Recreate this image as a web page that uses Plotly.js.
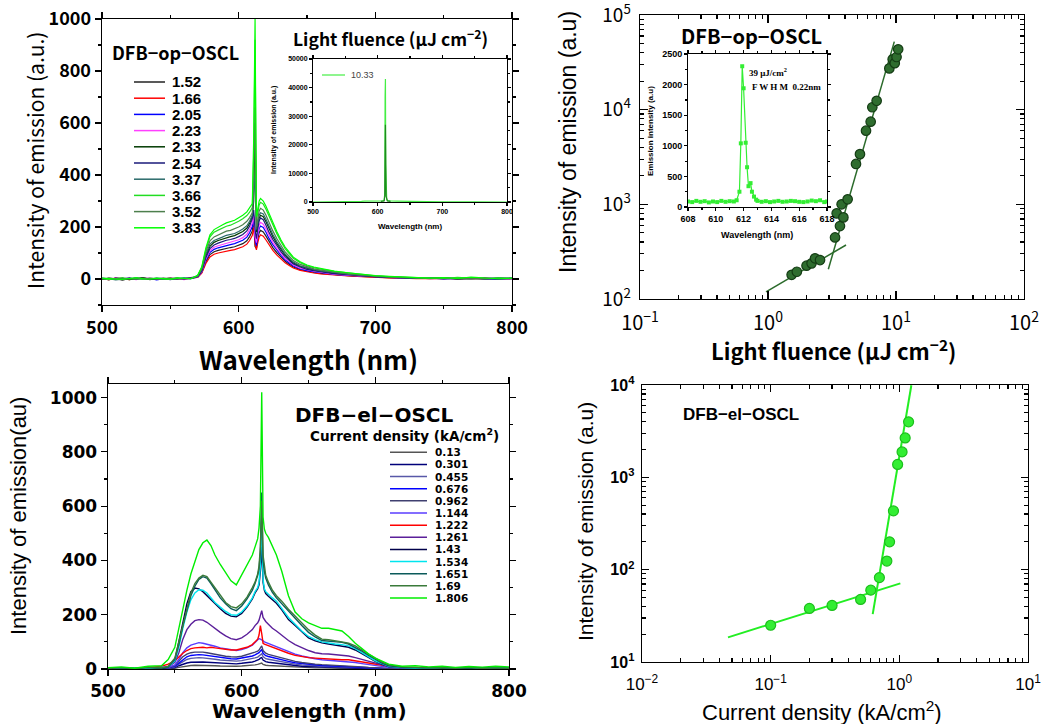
<!DOCTYPE html>
<html><head><meta charset="utf-8">
<script src="https://cdn.plot.ly/plotly-3.0.1.min.js"></script>
<style>html,body{margin:0;padding:0;background:#fff}#chart{width:1049px;height:724px}</style>
</head><body><div id="chart"></div>
<script>
// ---------------- Panel 1 (DFB-op-OSCL spectra) ----------------
const wl1 = [500,505,510,515,520,525,530,535,540,545,550,555,560,565,570,573,576,579,582,585,588,591,594,597,600,603,606,608,610,611,612,613,614,615,616,618,620,622,625,628,631,634,637,640,645,650,655,660,670,680,690,700,710,720,730,740,750,760,770,780,790,800];
const s1_152 = [-2,3,1,-4,2,0,5,-2,1,3,-1,2,0,3, 7,25,66,94,105,110,114,119,121,124,130,136,147,163,185,230,125,118,155,178,187,181,165,145,121,101,84,68,57,46,36,30,25,22, 17,13,10,7,5,2,4,1,3,-1,2,0,3,1];
const s1_166 = [2,-3,4,0,-2,3,1,-1,2,0,3,-1,2,4, 6,22,60,85,95,100,104,108,110,113,118,124,134,148,168,200,135,112,140,162,170,165,150,132,110,92,76,62,52,42,33,27,23,20, 15,12,9,6,4,3,1,2,0,3,1,2,0,1];
const s1_205 = [1,-2,3,2,-1,4,0,2,-3,1,2,0,4,1, 8,27,72,102,114,120,125,130,132,136,142,149,161,178,202,240,150,128,168,194,204,198,180,158,132,110,91,74,62,50,40,32,28,24, 18,14,11,8,5,4,2,3,0,2,4,1,-2,2];
const s1_223 = [0,2,-1,3,1,-2,2,4,0,-1,3,2,-2,2, 8,28,77,109,122,128,133,138,141,145,151,159,172,190,215,245,165,140,180,207,218,211,192,169,141,118,97,79,67,54,42,35,30,26, 19,15,12,8,6,3,5,1,3,0,2,5,1,0];
const s1_233 = [-1,2,0,3,-2,1,4,0,-1,2,1,3,0,2, 10,33,89,126,141,148,154,160,163,167,175,183,196,214,240,300,600,180,205,235,245,240,220,195,163,136,112,92,77,62,49,40,34,30, 22,18,13,9,7,4,3,2,4,0,2,3,1,2];
const s1_254 = [3,0,-2,1,4,-1,2,0,3,1,-2,2,1,5, 9,30,83,117,131,138,144,149,152,156,163,171,185,204,232,265,190,155,195,224,235,228,207,182,152,127,105,86,72,58,46,37,32,28, 21,17,12,9,6,4,2,3,5,1,3,0,2,4];
const s1_337 = [2,1,-3,0,2,3,-1,1,2,-2,0,3,2,1, 11,36,95,134,148,156,161,168,171,175,183,192,205,222,245,320,400,190,215,245,255,250,230,205,171,143,118,96,81,65,51,42,36,31, 24,19,14,10,7,5,2,4,1,3,0,2,4,1];
const s1_366 = [1,-2,2,4,0,1,-1,3,2,0,-2,2,3,1, 13,44,112,162,180,188,196,203,207,213,222,232,244,257,275,480,920,225,255,285,295,288,268,243,205,173,143,117,98,80,63,51,44,38, 29,23,17,12,9,7,5,4,2,6,3,1,4,2];
const s1_352 = [0,3,1,-2,2,0,3,1,-1,2,4,0,1,3, 12,40,104,147,162,170,177,184,187,192,200,209,222,236,255,380,660,200,235,262,272,265,245,220,185,155,128,104,88,71,56,46,39,34, 26,20,15,11,8,6,4,2,5,1,3,2,0,3];
const s1_383 = [3,1,0,-2,2,5,1,-1,3,2,0,4,2,1, 14,47,120,170,190,200,208,216,220,226,236,245,258,272,290,540,1000,240,270,300,310,300,280,255,215,182,150,123,103,84,66,54,46,40, 30,24,18,13,10,8,6,3,5,2,7,4,1,3];
const labels1 = ['1.52','1.66','2.05','2.23','2.33','2.54','3.37','3.66','3.52','3.83'];
const series1 = [s1_152,s1_166,s1_205,s1_223,s1_233,s1_254,s1_337,s1_366,s1_352,s1_383];
const colors1 = ['#222222','#ff0000','#0000ff','#ff40ff','#003a00','#1a1a7a','#2a6a6a','#22dd22','#4d7f4d','#00ff00'];

// inset 1 (10.33)
const wlIn1 = [500,520,540,560,570,575,580,590,600,605,608,610,611,611.5,612,612.5,613,614,616,620,630,640,645,650,660,665,670,675,680,700,750,800];
const in1_1033 = [0,30,-20,40,0,250,300,280,300,350,400,600,3000,37000,43000,13000,2500,800,500,350,300,250,100,60,40,30,30,20,30,10,20,0];
const wlIn1b = [605,610,611,611.5,612,612.5,613,615,620];
const in1_dark = [200,400,2000,27000,27000,13000,2000,400,200];
const labelIn1 = '10.33';

// ---------------- Panel 2 (threshold, optical) ----------------
const fluence2 = [1.53,1.68,2.0,2.19,2.33,2.55,3.34,3.44,3.65,3.76,3.88,4.19,4.87,5.23,5.83,6.34,6.53,7.06,8.87,9.42,9.78,10.1,10.4];
const intens2 = [180,194,225,238,269,258,447,803,590,1000,728,1130,2670,3390,6000,7470,10600,12400,27300,34000,31000,36000,43400];
const fitLowX2 = [0.965,4.07], fitLowY2 = [119,372];
const fitHighX2 = [2.96,9.7], fitHighY2 = [206,52300];

// inset 2 (narrow line)
const wlIn2 = [608.0,608.3,608.6,608.9,609.2,609.5,609.8,610.1,610.4,610.7,611.0,611.3,611.5,611.7,611.8,611.9,612.0,612.15,612.25,612.35,612.5,612.6,612.75,612.9,613.0,613.3,613.6,613.9,614.2,614.5,614.8,615.1,615.4,615.7,616.0,616.3,616.6,616.9,617.2,617.5,617.8,618.0];
const in2 = [90,80,100,85,95,75,90,80,100,85,95,90,110,250,1040,2300,1940,1050,650,340,390,250,170,120,100,85,95,80,90,100,85,90,100,95,85,80,90,105,95,110,80,90];

// ---------------- Panel 3 (DFB-el-OSCL spectra) ----------------
const wl3 = [500,510,520,530,540,545,550,553,556,559,562,565,568,571,574,577,580,584,588,592,596,600,604,608,610,612,613,614,615,616,617,618,620,623,626,630,635,640,645,650,655,660,665,670,675,680,685,690,695,700,705,710,720,730,740,750,760,770,780,790,800];
const s3_0130 = [1,0,1,0,1,1,3,6,9,11,13,14,14,14,13,12,12,11,10,10,10,11,12,14,15,17,18,20,22,17,15,14,13,12,11,10,8,7,6,5,4,4,3,3,3,3,2,2,1,1,0,1,0,1,0,1,0,1,0,1,0];
const s3_0301 = [0,1,0,2,1,2,5,12,18,22,25,26,27,26,25,24,23,21,20,19,19,21,23,26,29,32,35,40,42,33,29,27,25,23,21,18,15,12,10,9,8,7,6,6,5,5,4,3,2,1,1,0,1,0,1,0,1,0,1,0,1];
const s3_0455 = [1,0,2,1,2,3,8,18,28,35,39,41,42,41,40,38,36,33,31,30,29,31,34,38,41,44,47,52,56,46,41,38,36,33,30,26,22,18,15,13,11,10,9,8,8,7,6,5,4,2,1,1,0,1,2,0,1,0,1,2,0];
const s3_0676 = [0,1,2,1,3,4,10,22,36,45,50,52,53,52,50,48,45,42,40,38,37,40,44,48,52,56,60,66,72,58,52,49,46,42,38,33,28,23,20,17,15,13,12,11,10,9,8,6,5,3,2,1,2,0,1,2,0,1,2,0,1];
const s3_0962 = [1,2,1,3,2,4,12,28,45,55,60,62,63,62,60,57,54,50,47,45,44,47,52,58,62,66,70,78,85,68,62,58,54,50,46,40,34,28,24,20,18,16,15,14,13,12,10,8,6,4,3,2,1,2,1,0,2,1,0,1,2];
const s3_1144 = [2,1,3,2,4,6,15,35,60,78,88,94,97,95,92,88,84,78,74,70,68,72,78,88,98,105,112,110,108,104,100,98,95,88,82,75,65,55,48,42,38,34,32,30,30,28,24,20,16,12,9,6,4,2,3,1,2,3,2,1,2];
const s3_1222 = [1,2,3,5,10,18,30,45,58,68,75,78,80,80,78,80,78,75,72,70,70,74,80,90,100,110,125,160,130,95,92,90,88,82,76,68,58,50,45,42,40,38,36,35,34,34,30,25,22,18,14,10,6,4,3,5,2,4,3,2,4];
const s3_1261 = [2,3,1,4,5,8,25,60,110,145,165,178,182,180,172,160,150,135,122,112,108,115,128,145,160,170,180,200,215,190,180,175,165,150,140,125,105,90,78,68,60,56,55,52,50,48,42,35,28,22,15,9,5,3,2,4,3,1,2,3,2];
const s3_1430 = [1,3,2,4,3,7,32,95,170,240,285,298,295,285,270,255,240,222,205,195,192,205,228,258,280,296,310,360,450,320,290,278,268,255,242,218,182,160,136,115,104,96,92,88,86,80,70,56,42,28,18,9,5,2,3,4,2,3,1,2,3];
const s3_1534 = [2,3,4,2,5,8,30,80,150,210,255,280,292,290,280,262,245,228,212,200,198,210,232,262,285,300,320,380,560,330,295,285,275,262,250,225,190,165,140,120,108,100,95,92,90,85,75,60,45,30,20,10,5,3,4,2,5,3,2,4,3];
const s3_1651 = [2,4,1,5,3,8,35,90,160,220,270,305,330,340,335,315,290,262,240,222,215,232,258,290,315,345,370,430,650,400,360,335,310,282,262,240,212,188,160,135,118,105,102,100,98,92,80,66,50,35,22,12,6,4,5,3,4,2,5,3,2];
const s3_1690 = [3,5,2,6,4,10,40,100,170,230,280,315,335,345,340,320,300,270,245,230,225,240,265,300,320,350,380,450,620,420,370,345,320,290,270,250,220,195,170,145,125,110,108,105,100,95,85,70,55,38,25,15,8,6,4,5,3,6,2,4,3];
const s3_1806 = [5,8,3,10,12,35,80,150,230,290,350,395,440,465,475,455,420,385,355,325,310,345,385,420,450,480,520,600,1020,560,515,500,485,450,420,360,270,210,185,170,160,150,150,145,140,120,95,75,55,40,28,18,10,12,8,10,6,9,7,10,8];
const labels3 = ['0.13','0.301','0.455','0.676','0.962','1.144','1.222','1.261','1.43','1.534','1.651','1.69','1.806'];
const series3 = [s3_0130,s3_0301,s3_0455,s3_0676,s3_0962,s3_1144,s3_1222,s3_1261,s3_1430,s3_1534,s3_1651,s3_1690,s3_1806];
const colors3 = ['#555555','#00007a','#5858a8','#0000ff','#404070','#5a3cff','#ff0000','#5b1f9a','#00004a','#00e5ee','#0b5a5a','#3a7a3a','#00ee00'];

// ---------------- Panel 4 (threshold, electrical) ----------------
const current4 = [0.1,0.2,0.3,0.5,0.6,0.7,0.8,0.84,0.9,0.97,1.05,1.11,1.18];
const intens4 = [25,38,41,47.6,60,82,124,200,433,1380,1885,2670,3990];
const fitLowX4 = [0.0466,1.018], fitLowY4 = [18.5,71];
const fitHighX4 = [0.621,1.24], fitHighY4 = [33,9930];

// ---------------- helpers ----------------
const W = 1049, H = 724;
const px = v => v / W, py = v => 1 - v / H;
const FJ = 'Noto Sans CJK JP, sans-serif';
const FD = 'DejaVu Sans, sans-serif';
const FN = 'Liberation Sans Narrow, Liberation Sans, sans-serif';
const FA = 'Liberation Sans, Arial, sans-serif';
const FS = 'Liberation Serif, DejaVu Serif, serif';

function annot(x, y, text, size, family, extra) {
  return Object.assign({xref:'paper', yref:'paper', x:px(x), y:py(y), text:text, showarrow:false,
    xanchor:'center', yanchor:'middle', font:{family:family, size:size, color:'#000'}}, extra || {});
}
function baseAxis(o) {
  return Object.assign({showline:true, linecolor:'#000', linewidth:1.4, mirror:'allticks', ticks:'outside',
    ticklen:6, tickwidth:1.2, tickcolor:'#000', showgrid:false, zeroline:false, fixedrange:true,
    ticklabeloverflow:'allow', exponentformat:'none', separatethousands:false}, o);
}
function logMinor(lo, hi) {
  const v = [];
  for (let d = lo; d < hi; d++) for (let m = 2; m <= 9; m++) v.push(m * Math.pow(10, d));
  return v;
}
function pow10Text(vals) {
  return vals.map(v => { const e = Math.round(Math.log10(v)); return '10<sup>' + (e < 0 ? '\u2212' + (-e) : e) + '</sup>'; });
}

const traces = [];
series1.forEach((s, i) => traces.push({x: wl1, y: s, xaxis:'x', yaxis:'y', mode:'lines', name: labels1[i],
  line:{color: colors1[i], width: 1.2}}));
traces.push({x: wlIn1, y: in1_1033, xaxis:'x2', yaxis:'y2', mode:'lines', name: labelIn1, line:{color:'#44ee44', width:1.2}});
traces.push({x: wlIn1b, y: in1_dark, xaxis:'x2', yaxis:'y2', mode:'lines', name:'10.33 (dark)', line:{color:'#1f8a1f', width:1.2}});

traces.push({x: fitLowX2, y: fitLowY2, xaxis:'x3', yaxis:'y3', mode:'lines', name:'fit low', line:{color:'#2b6b2b', width:1.5}});
traces.push({x: fitHighX2, y: fitHighY2, xaxis:'x3', yaxis:'y3', mode:'lines', name:'fit high', line:{color:'#2b6b2b', width:1.5}});
traces.push({x: fluence2, y: intens2, xaxis:'x3', yaxis:'y3', mode:'markers', name:'DFB-op-OSCL',
  marker:{color:'#2f6d2f', size:9.5, line:{color:'#143c14', width:1.2}}});
traces.push({x: wlIn2, y: in2, xaxis:'x4', yaxis:'y4', mode:'lines+markers', name:'39 uJ/cm2',
  line:{color:'#33ee33', width:1.2}, marker:{color:'#33ee33', size:4, symbol:'square'}});

series3.forEach((s, i) => traces.push({x: wl3, y: s, xaxis:'x5', yaxis:'y5', mode:'lines', name: labels3[i],
  line:{color: colors3[i], width: 1.4}}));

traces.push({x: fitLowX4, y: fitLowY4, xaxis:'x6', yaxis:'y6', mode:'lines', name:'fit low', line:{color:'#22ee22', width:2}});
traces.push({x: fitHighX4, y: fitHighY4, xaxis:'x6', yaxis:'y6', mode:'lines', name:'fit high', line:{color:'#22ee22', width:2}});
traces.push({x: current4, y: intens4, xaxis:'x6', yaxis:'y6', mode:'markers', name:'DFB-el-OSCL',
  marker:{color:'#33ee33', size:10, line:{color:'#1cbf1c', width:1.2}}});

const t1font = {family:FJ, size:18, color:'#000', weight:'bold'};
const layout = {
  width: W, height: H, margin:{l:0, r:0, t:0, b:0}, showlegend:false,
  paper_bgcolor:'#fff', plot_bgcolor:'#fff',
  xaxis: baseAxis({domain:[px(102), px(512)], anchor:'y', range:[500,800], tick0:500, dtick:100,
    minor:{ticks:'outside', ticklen:3, dtick:50, tick0:500}, tickfont:t1font}),
  yaxis: baseAxis({domain:[py(305), py(19)], anchor:'x', range:[-100,1000], tick0:0, dtick:200,
    minor:{ticks:'outside', ticklen:3, dtick:100, tick0:0}, tickfont:t1font}),
  xaxis2: baseAxis({domain:[px(313), px(507)], anchor:'y2', range:[500,800], tick0:500, dtick:100, ticklen:3, linewidth:1,
    minor:{ticks:'outside', ticklen:2, dtick:50}, tickfont:{family:FA, size:7, color:'#000', weight:'bold'}}),
  yaxis2: baseAxis({domain:[py(202), py(59)], anchor:'x2', range:[0,50000], tick0:0, dtick:10000, ticklen:3, linewidth:1,
    tickformat:'d', minor:{ticks:'outside', ticklen:2, dtick:5000}, tickfont:{family:FA, size:7, color:'#000', weight:'bold'}}),
  xaxis3: baseAxis({domain:[px(640), px(1024)], anchor:'y3', type:'log', range:[-1,2], ticks:'inside', ticklen:8,
    tickvals:[0.1,1,10,100], ticktext:pow10Text([0.1,1,10,100]), ticklabelstandoff:6,
    minor:{tickmode:'array', tickvals:logMinor(-1,2), ticks:'inside', ticklen:4},
    tickfont:{family:FJ, size:20, color:'#000'}}),
  yaxis3: baseAxis({domain:[py(299), py(15)], anchor:'x3', type:'log', range:[2,5], ticks:'inside', ticklen:8,
    tickvals:[100,1000,10000,100000], ticktext:pow10Text([100,1000,10000,100000]), ticklabelstandoff:4,
    minor:{tickmode:'array', tickvals:logMinor(2,5), ticks:'inside', ticklen:4},
    tickfont:{family:FJ, size:19, color:'#000'}}),
  xaxis4: baseAxis({domain:[px(688), px(827)], anchor:'y4', range:[608,618], tick0:608, dtick:2, ticklen:3, linewidth:1,
    minor:{ticks:'outside', ticklen:2, dtick:1}, tickfont:{family:FA, size:9, color:'#000', weight:'bold'}}),
  yaxis4: baseAxis({domain:[py(207), py(54)], anchor:'x4', range:[0,2500], tick0:0, dtick:500, ticklen:3, linewidth:1,
    minor:{ticks:'outside', ticklen:2, dtick:250}, tickfont:{family:FA, size:9, color:'#000', weight:'bold'}}),
  xaxis5: baseAxis({domain:[px(108), px(509)], anchor:'y5', range:[500,800], tick0:500, dtick:100,
    minor:{ticks:'outside', ticklen:3, dtick:50, tick0:500}, tickfont:{family:FD, size:17, color:'#000', weight:'bold'}}),
  yaxis5: baseAxis({domain:[py(669), py(384)], anchor:'x5', range:[0,1050], tick0:0, dtick:200,
    minor:{ticks:'outside', ticklen:3, dtick:100, tick0:0}, tickfont:{family:FD, size:17, color:'#000', weight:'bold'}}),
  xaxis6: baseAxis({domain:[px(642), px(1028)], anchor:'y6', type:'log', range:[-2,1], ticks:'inside', ticklen:7,
    tickvals:[0.01,0.1,1,10], ticktext:pow10Text([0.01,0.1,1,10]), ticklabelstandoff:6,
    minor:{tickmode:'array', tickvals:logMinor(-2,1), ticks:'inside', ticklen:4},
    tickfont:{family:FA, size:17, color:'#000'}}),
  yaxis6: baseAxis({domain:[py(662), py(385)], anchor:'x6', type:'log', range:[1,4], ticks:'inside', ticklen:7,
    tickvals:[10,100,1000,10000], ticktext:pow10Text([10,100,1000,10000]), ticklabelstandoff:3,
    minor:{tickmode:'array', tickvals:logMinor(1,4), ticks:'inside', ticklen:4},
    tickfont:{family:FA, size:16, color:'#000', weight:'bold'}}),
  annotations: [], shapes: []
};

const A = layout.annotations, S = layout.shapes;
// Panel 1 texts
A.push(annot(35, 161, 'Intensity of emission (a.u.)', 21, FJ, {textangle:-90}));
A.push(annot(308, 358, '<b>Wavelength (nm)</b>', 26, FJ));
A.push(annot(175, 52, '<b>DFB\u2212op\u2212OSCL</b>', 18, FJ));
A.push(annot(390, 38, '<b>Light fluence (\u03bcJ cm<sup>\u22122</sup>)</b>', 17.5, FJ));
// panel 1 legend
labels1.forEach((t, i) => {
  const y = 82 + i * 16.2;
  S.push({type:'line', xref:'paper', yref:'paper', x0:px(134), x1:px(165), y0:py(y), y1:py(y), line:{color:colors1[i], width:1.5}});
  A.push(annot(170, y, '<b>' + t + '</b>', 15, FA, {xanchor:'left'}));
});
// inset 1 texts
A.push(annot(274, 130, '<b>Intensity of emission (a.u.)</b>', 7, FA, {textangle:-90}));
A.push(annot(410, 226, '<b>Wavelength (nm)</b>', 8, FA));
S.push({type:'line', xref:'paper', yref:'paper', x0:px(322), x1:px(345), y0:py(75), y1:py(75), line:{color:'#44ee44', width:1.2}});
A.push(annot(349, 75, labelIn1, 9, FA, {xanchor:'left', font:{family:FA, size:9, color:'#444'}}));

// Panel 2 texts
A.push(annot(568, 142, 'Intensity of emission (a.u)', 23, FN, {textangle:-90}));
A.push(annot(833, 350, '<b>Light fluence (\u03bcJ cm<sup>\u22122</sup>)</b>', 22, FJ));
A.push(annot(751, 35, '<b>DFB\u2212op\u2212OSCL</b>', 20, FJ));
// inset 2 texts
A.push(annot(650, 131, '<b>Emission intensity (a.u)</b>', 8, FA, {textangle:-90}));
A.push(annot(757, 235, '<b>Wavelength (nm)</b>', 9, FA));
A.push(annot(747, 72, '<b>39 \u03bcJ/cm<sup>2</sup></b>', 9, FS, {xanchor:'left'}));
A.push(annot(750, 87, '<b>F W H M  0.22nm</b>', 9, FS, {xanchor:'left'}));

// Panel 3 texts
A.push(annot(18, 516, 'Intensity of emission(au)', 22, FN, {textangle:-90}));
A.push(annot(309, 711, '<b>Wavelength (nm)</b>', 20, FD));
A.push(annot(374, 415, '<b>DFB\u2212el\u2212OSCL</b>', 20, FD));
A.push(annot(404, 435, '<b>Current density (kA/cm<sup>2</sup>)</b>', 13.5, FD));
labels3.forEach((t, i) => {
  const y = 452.3 + i * 12.14;
  S.push({type:'line', xref:'paper', yref:'paper', x0:px(390), x1:px(427), y0:py(y), y1:py(y), line:{color:colors3[i], width:1.5}});
  A.push(annot(433, y, '<b>' + t + '</b>', 10.5, FD, {xanchor:'left'}));
});

// Panel 4 texts
A.push(annot(585, 522, 'Intensity of emission (a.u)', 21, FA, {textangle:-90}));
A.push(annot(822, 711, 'Current density (kA/cm<sup>2</sup>)', 22, FA));
A.push(annot(741, 414, '<b>DFB\u2212el\u2212OSCL</b>', 17, FA));

Plotly.newPlot('chart', traces, layout, {staticPlot:true, displayModeBar:false});
</script></body></html>
